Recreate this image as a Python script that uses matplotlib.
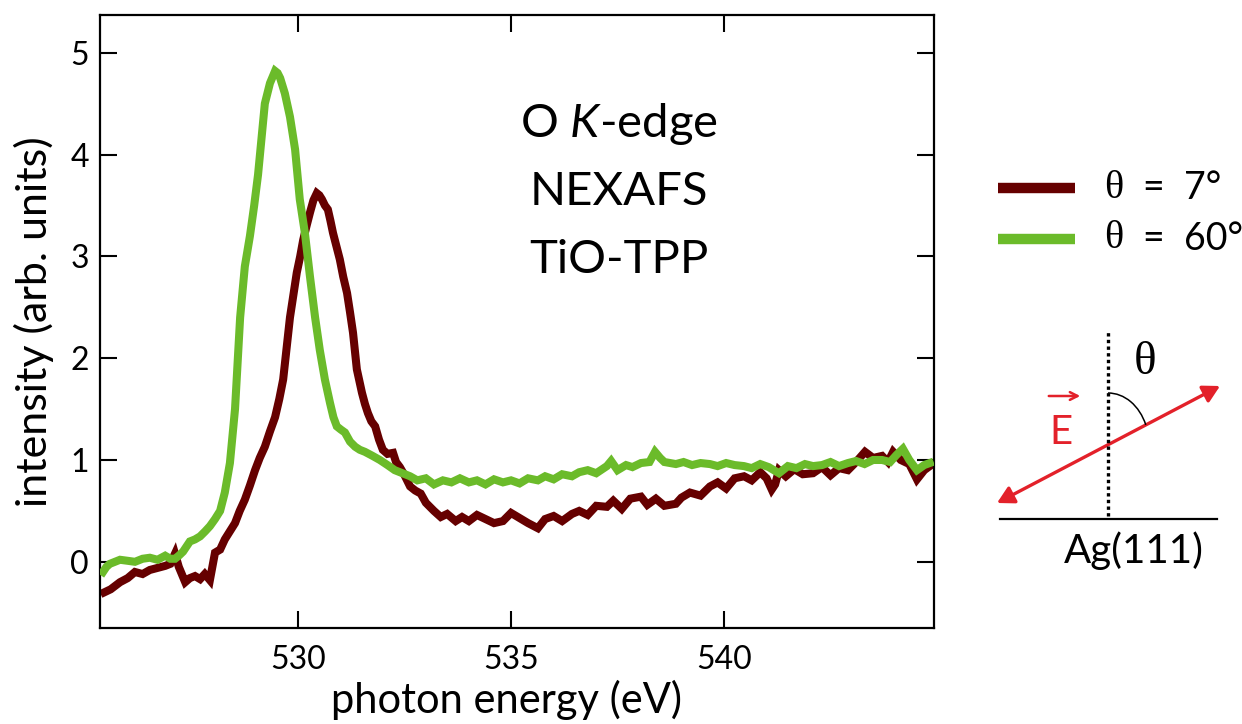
import numpy as np
import matplotlib.pyplot as plt
from matplotlib.patches import FancyArrowPatch, Arc

# ------------------------------------------------------------
# Data (photon energy in eV, intensity arb. units)
# ------------------------------------------------------------
energy_7 = [525.45, 525.6, 525.82, 526.0, 526.17, 526.35, 526.52, 526.7, 526.88,
            527.0, 527.11, 527.2, 527.35, 527.46, 527.58, 527.7, 527.81, 527.93,
            528.05, 528.17, 528.28, 528.4, 528.52, 528.63, 528.75, 528.87, 528.99,
            529.1, 529.22, 529.34, 529.46, 529.56, 529.65, 529.73, 529.81, 529.89,
            529.97, 530.05, 530.12, 530.2, 530.28, 530.36, 530.44, 530.5, 530.56,
            530.63, 530.7, 530.76, 530.82, 530.9, 530.98, 531.06, 531.15, 531.22,
            531.29, 531.38, 531.5, 531.57, 531.64, 531.72, 531.81, 531.9, 531.99,
            532.1, 532.23, 532.3, 532.39, 532.5, 532.63, 532.75, 532.88, 533.0,
            533.19, 533.35, 533.5, 533.7, 533.85, 534.01, 534.2, 534.4, 534.6,
            534.81, 535.0, 535.2, 535.4, 535.63, 535.8, 536.0, 536.2, 536.43,
            536.6, 536.8, 537.0, 537.25, 537.4, 537.6, 537.8, 538.05, 538.2, 538.4,
            538.6, 538.87, 539.0, 539.2, 539.45, 539.67, 539.85, 540.05, 540.25,
            540.47, 540.65, 540.85, 541.0, 541.12, 541.2, 541.29, 541.45, 541.65,
            541.85, 542.09, 542.3, 542.5, 542.7, 542.91, 543.1, 543.31, 543.5,
            543.71, 543.85, 543.97, 544.15, 544.35, 544.53, 544.7, 544.83]
intensity_7 = [-0.30, -0.27, -0.20, -0.16, -0.10, -0.12, -0.08, -0.06, -0.04,
               -0.02, 0.08, -0.05, -0.20, -0.16, -0.14, -0.17, -0.12, -0.18,
               0.09, 0.12, 0.22, 0.30, 0.38, 0.50, 0.61, 0.75, 0.90,
               1.02, 1.13, 1.28, 1.42, 1.60, 1.79, 2.10, 2.40, 2.62,
               2.84, 3.00, 3.16, 3.30, 3.43, 3.55, 3.62, 3.60, 3.56,
               3.50, 3.46, 3.35, 3.23, 3.10, 2.97, 2.80, 2.64, 2.45,
               2.25, 1.89, 1.66, 1.55, 1.46, 1.38, 1.33, 1.20, 1.10,
               1.06, 1.07, 0.98, 0.93, 0.85, 0.74, 0.70, 0.67, 0.58,
               0.50, 0.44, 0.47, 0.40, 0.44, 0.40, 0.46, 0.42, 0.38,
               0.40, 0.48, 0.43, 0.38, 0.33, 0.42, 0.45, 0.40, 0.47,
               0.50, 0.46, 0.55, 0.54, 0.60, 0.52, 0.62, 0.64, 0.56, 0.62,
               0.55, 0.57, 0.63, 0.68, 0.65, 0.74, 0.78, 0.72, 0.82,
               0.84, 0.80, 0.88, 0.82, 0.71, 0.76, 0.90, 0.84, 0.91,
               0.86, 0.87, 0.93, 0.85, 0.92, 0.90, 0.98, 1.08, 1.02,
               1.04, 0.98, 1.08, 1.00, 0.96, 0.81, 0.90, 0.94]

energy_60 = [525.42, 525.5, 525.58, 525.7, 525.82, 526.0, 526.17, 526.35, 526.52,
             526.7, 526.88, 527.0, 527.11, 527.2, 527.3, 527.46, 527.58, 527.7,
             527.82, 527.93, 528.05, 528.17, 528.28, 528.4, 528.52, 528.58, 528.64,
             528.75, 528.87, 528.97, 529.06, 529.14, 529.22, 529.34, 529.46, 529.52,
             529.58, 529.69, 529.81, 529.93, 530.04, 530.16, 530.28, 530.4, 530.51,
             530.63, 530.75, 530.83, 530.91, 531.0, 531.1, 531.22, 531.34, 531.45,
             531.57, 531.75, 531.92, 532.1, 532.27, 532.45, 532.63, 532.8, 533.0,
             533.19, 533.4, 533.6, 533.8, 534.01, 534.2, 534.4, 534.6, 534.81,
             535.0, 535.2, 535.4, 535.63, 535.8, 536.0, 536.2, 536.43, 536.6,
             536.8, 537.0, 537.25, 537.35, 537.5, 537.7, 537.85, 538.05, 538.25,
             538.38, 538.5, 538.6, 538.87, 539.05, 539.25, 539.45, 539.67, 539.85,
             540.05, 540.25, 540.47, 540.65, 540.85, 541.05, 541.29, 541.5, 541.7,
             541.9, 542.09, 542.3, 542.5, 542.7, 542.91, 543.1, 543.3, 543.5,
             543.71, 543.9, 544.05, 544.2, 544.35, 544.53, 544.7, 544.83]
intensity_60 = [-0.10, -0.05, -0.02, 0.00, 0.02, 0.01, 0.00, 0.03, 0.04,
                0.02, 0.06, 0.03, 0.03, 0.06, 0.10, 0.20, 0.22, 0.25,
                0.30, 0.35, 0.42, 0.50, 0.68, 0.97, 1.50, 1.95, 2.40,
                2.90, 3.20, 3.50, 3.80, 4.15, 4.50, 4.70, 4.82, 4.80,
                4.75, 4.60, 4.37, 4.05, 3.56, 3.23, 2.80, 2.40, 2.08,
                1.79, 1.56, 1.42, 1.33, 1.30, 1.27, 1.18, 1.13, 1.10,
                1.08, 1.04, 1.00, 0.95, 0.90, 0.87, 0.84, 0.80, 0.82,
                0.76, 0.80, 0.78, 0.82, 0.78, 0.80, 0.76, 0.81, 0.78,
                0.80, 0.77, 0.82, 0.80, 0.84, 0.81, 0.86, 0.84, 0.88,
                0.90, 0.87, 0.94, 0.99, 0.90, 0.95, 0.93, 0.97, 0.98,
                1.08, 1.02, 0.98, 0.96, 0.98, 0.95, 0.97, 0.96, 0.94,
                0.97, 0.95, 0.94, 0.92, 0.96, 0.93, 0.87, 0.94, 0.92,
                0.96, 0.94, 0.95, 0.98, 0.94, 0.97, 0.99, 0.96, 1.00,
                1.00, 0.98, 1.05, 1.11, 1.00, 0.90, 0.95, 0.97]

labels = ["=  7°", "=  60°"]
colors = {"dark": "#660000", "green": "#6BBB2A", "red": "#E3212A"}

plt.rcParams.update({
    "font.family": ["Lato", "DejaVu Sans"],
    "mathtext.fontset": "custom",
    "mathtext.rm": "Lato",
    "mathtext.it": "Lato:italic",
})

fig = plt.figure(figsize=(12.42, 7.24), dpi=100)
W, H = 1242, 724
ax = fig.add_axes([100 / W, 1 - 628 / H, (934 - 100) / W, (628 - 15) / H])

ax.plot(energy_7, intensity_7, color=colors["dark"], lw=5.8, solid_joinstyle="miter", zorder=2)
ax.plot(energy_60, intensity_60, color=colors["green"], lw=5.8, solid_joinstyle="miter", zorder=3)

ax.set_xlim(525.35, 544.93)
ax.set_ylim(-0.65, 5.37)
ax.set_xticks([530, 535, 540])
ax.set_yticks([0, 1, 2, 3, 4, 5])
ax.tick_params(direction="in", length=12, width=1.5, labelsize=23,
               top=True, right=True, pad=8)
ax.tick_params(axis="x", pad=12)
for s in ax.spines.values():
    s.set_linewidth(1.6)
ax.set_xlabel("photon energy (eV)", fontsize=30, labelpad=6)
ax.xaxis.set_label_coords(0.487, -0.085)
ax.set_ylabel("intensity (arb. units)", fontsize=31, labelpad=12)

# overlay in pixel coordinates (y up) for annotations and schematic
ov = fig.add_axes([0, 0, 1, 1], facecolor="none")
ov.set_xlim(0, W)
ov.set_ylim(0, H)
ov.axis("off")

def py(y):
    return H - y

for i, line in enumerate(["O $K$-edge", "NEXAFS", "TiO-TPP"]):
    ov.text(619, py(124 + 68 * i), line, fontsize=34, ha="center", va="center")

# legend
for i, (lab, c) in enumerate(zip(labels, [colors["dark"], colors["green"]])):
    yy = py(188 + 51 * i)
    ov.plot([998, 1075], [yy, yy], color=c, lw=7.5, solid_capstyle="butt")
    ov.text(1104, yy, "θ", family="Liberation Serif", fontsize=29, ha="left", va="center")
    ov.text(1143, yy, lab, fontsize=27, ha="left", va="center")

# schematic
ov.plot([1000, 1217], [py(519), py(519)], color="black", lw=1.6)
ov.plot([1108, 1108], [py(516), py(330)], color="black", lw=2.4, ls=(0, (1, 1.0)))
ov.add_patch(FancyArrowPatch((997, py(503)), (1220, py(386)),
                             arrowstyle="<|-|>,head_length=10,head_width=5.5",
                             color=colors["red"], lw=2.4, shrinkA=0, shrinkB=0))
ov.add_patch(Arc((1108, py(445)), 82, 104, theta1=28, theta2=90,
                 color="black", lw=1.1))
ov.text(1145, py(363), "θ", family="Liberation Serif", fontsize=34, ha="center", va="center")
ov.text(1061, py(433), "E", fontsize=29, color=colors["red"], ha="center", va="center")
ov.annotate("", xy=(1083, py(396)), xytext=(1046, py(396)),
            arrowprops=dict(arrowstyle="->,head_length=0.55,head_width=0.28",
                            color=colors["red"], lw=1.8))
ov.text(1134, py(551), "Ag(111)", fontsize=29, ha="center", va="center")

fig.savefig("out.png", dpi=100)
